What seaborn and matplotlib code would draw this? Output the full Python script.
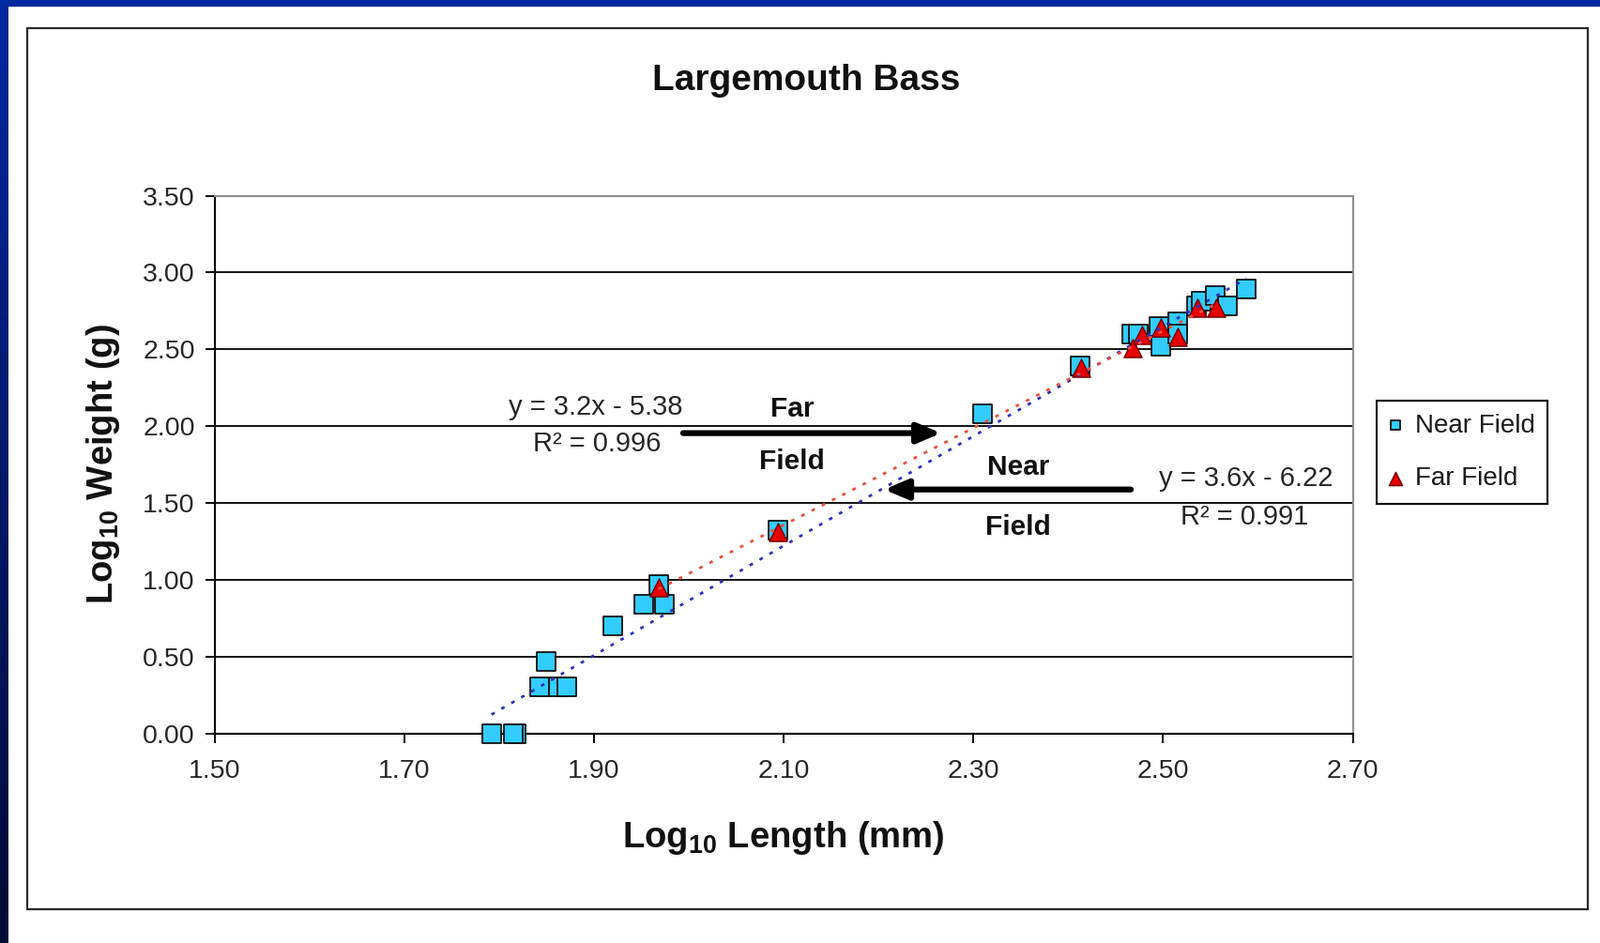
import numpy as np
import matplotlib
matplotlib.use("Agg")
import matplotlib.pyplot as plt
from matplotlib.colors import LinearSegmentedColormap
from matplotlib.patches import Rectangle
import seaborn as sns

# ── Données ───────────────────────────────────────────────────────────────────
NEAR_LOG_LENGTH = [1.792, 1.818, 1.815, 1.843, 1.863, 1.871, 1.850, 1.920, 1.953, 1.974,
                   1.968, 2.094, 2.310, 2.413, 2.467, 2.474, 2.498, 2.496, 2.515, 2.515,
                   2.535, 2.540, 2.555, 2.568, 2.588]
NEAR_LOG_WEIGHT = [0.00, 0.00, 0.00, 0.30, 0.30, 0.30, 0.47, 0.70, 0.84, 0.84,
                   0.97, 1.32, 2.08, 2.39, 2.60, 2.60, 2.52, 2.65, 2.68, 2.60,
                   2.78, 2.81, 2.85, 2.78, 2.89]

FAR_LOG_LENGTH = [1.968, 2.094, 2.414, 2.468, 2.478, 2.498, 2.515, 2.536, 2.556]
FAR_LOG_WEIGHT = [0.95, 1.31, 2.38, 2.51, 2.59, 2.64, 2.58, 2.77, 2.77]

X_TICKS = [1.50, 1.70, 1.90, 2.10, 2.30, 2.50, 2.70]
Y_TICKS = [0.00, 0.50, 1.00, 1.50, 2.00, 2.50, 3.00, 3.50]

FAR_EQUATION = ["y = 3.2x - 5.38", "R² = 0.996"]
NEAR_EQUATION = ["y = 3.6x - 6.22", "R² = 0.991"]

# ── Style ─────────────────────────────────────────────────────────────────────
_W, _H = 1706, 1005
_NEAR_FILL = "#33CCFF"
_FAR_FILL = "#E60000"
_TEXT = "#262626"
_DARK = "#111111"
_NAVY_TOP = "#0028A0"
_NAVY_BOTTOM = "#000A35"

sns.set_theme(style="white")
plt.rcParams["font.family"] = ["Liberation Sans", "DejaVu Sans"]
plt.rcParams["mathtext.fontset"] = "custom"
plt.rcParams["mathtext.rm"] = "Liberation Sans"
plt.rcParams["mathtext.bf"] = "Liberation Sans:bold"

fig = plt.figure(figsize=(_W / 100, _H / 100), dpi=100)
fig.patch.set_facecolor("white")

# cadre bleu marine (diapositive)
fig.add_artist(Rectangle((0, 1 - 6 / _H), 1, 6 / _H, transform=fig.transFigure,
                         color=_NAVY_TOP, zorder=10))
ax_band = fig.add_axes([0, 0, 9 / _W, 1])
ax_band.imshow(np.linspace(0, 1, 256).reshape(-1, 1), aspect="auto",
               cmap=LinearSegmentedColormap.from_list("navy", [_NAVY_TOP, _NAVY_BOTTOM]))
ax_band.axis("off")

# bordure de la zone graphique
fig.add_artist(Rectangle((29 / _W, 1 - 969 / _H), (1692 - 29) / _W, (969 - 30) / _H,
                         transform=fig.transFigure, fill=False, ec="#2a2a2a", lw=1.6))

ax = fig.add_axes([228.5 / _W, 1 - 781.5 / _H, (1441.6 - 228.5) / _W, (781.5 - 208.5) / _H])

sns.scatterplot(x=NEAR_LOG_LENGTH, y=NEAR_LOG_WEIGHT, marker="s", s=225,
                color=_NEAR_FILL, edgecolor="#101010", linewidth=1.3,
                label="Near Field", ax=ax, zorder=3, clip_on=False)
sns.scatterplot(x=FAR_LOG_LENGTH, y=FAR_LOG_WEIGHT, marker="^", s=190,
                color=_FAR_FILL, edgecolor="#700000", linewidth=1.0,
                label="Far Field", ax=ax, zorder=4, clip_on=False)

# droites de tendance (pointillés)
sns.regplot(x=np.array(NEAR_LOG_LENGTH), y=np.array(NEAR_LOG_WEIGHT), scatter=False,
            ci=None, ax=ax,
            line_kws=dict(color="#3030B8", lw=2.0, ls=(0, (1.4, 3.0)), zorder=5))
sns.regplot(x=np.array(FAR_LOG_LENGTH), y=np.array(FAR_LOG_WEIGHT), scatter=False,
            ci=None, ax=ax,
            line_kws=dict(color="#E85040", lw=2.0, ls=(0, (1.4, 3.0)), zorder=5))

ax.set_xlim(X_TICKS[0], X_TICKS[-1])
ax.set_ylim(Y_TICKS[0], Y_TICKS[-1])
ax.set_xticks(X_TICKS)
ax.set_xticklabels([f"{t:.2f}" for t in X_TICKS])
ax.set_yticks(Y_TICKS)
ax.set_yticklabels([f"{t:.2f}" for t in Y_TICKS])
ax.tick_params(axis="both", direction="out", length=7, width=1.4, color="black",
               labelsize=20.5, labelcolor=_TEXT)
ax.tick_params(axis="y", left=True, pad=8)
ax.tick_params(axis="x", bottom=True, pad=13)

ax.set_axisbelow(True)
ax.yaxis.grid(True, color=_DARK, linewidth=1.4)
ax.xaxis.grid(False)
for tick in ax.yaxis.get_major_ticks()[-1:]:
    tick.gridline.set_visible(False)

for side in ("left", "bottom"):
    ax.spines[side].set_color("black")
    ax.spines[side].set_linewidth(1.5)
for side in ("top", "right"):
    ax.spines[side].set_color("#8f8f8f")
    ax.spines[side].set_linewidth(1.5)

ax.set_xlabel(r"Log$_{\mathbf{10}}$ Length (mm)", fontsize=27.5, fontweight="bold", color=_DARK)
ax.xaxis.set_label_coords(0.5, -0.16)
ax.set_ylabel(r"Log$_{\mathbf{10}}$ Weight (g)", fontsize=27.5, fontweight="bold", color=_DARK)
ax.yaxis.set_label_coords(-0.081, 0.5)

fig.text(859.5 / _W, 1 - 95.7 / _H, "Largemouth Bass", ha="center", va="baseline",
         fontsize=28, fontweight="bold", color=_DARK)

# annotations
ax.text(1.902, 2.123, FAR_EQUATION[0], ha="center", va="center", fontsize=21, color=_TEXT)
ax.text(1.903, 1.885, FAR_EQUATION[1], ha="center", va="center", fontsize=21, color=_TEXT)
ax.text(2.587, 1.660, NEAR_EQUATION[0], ha="center", va="center", fontsize=21, color=_TEXT)
ax.text(2.586, 1.408, NEAR_EQUATION[1], ha="center", va="center", fontsize=21, color=_TEXT)

ax.text(2.109, 2.112, "Far", ha="center", va="center", fontsize=21.5, fontweight="bold", color=_DARK)
ax.text(2.109, 1.770, "Field", ha="center", va="center", fontsize=21.5, fontweight="bold", color=_DARK)
ax.text(2.347, 1.734, "Near", ha="center", va="center", fontsize=21.5, fontweight="bold", color=_DARK)
ax.text(2.347, 1.343, "Field", ha="center", va="center", fontsize=21.5, fontweight="bold", color=_DARK)

_arrow = dict(arrowstyle="-|>,head_length=0.75,head_width=0.32", color="black", lw=4.5,
              shrinkA=0, shrinkB=0, mutation_scale=20)
ax.annotate("", xy=(2.266, 1.954), xytext=(1.994, 1.954), arrowprops=_arrow, zorder=6)
ax.annotate("", xy=(2.206, 1.587), xytext=(2.466, 1.587), arrowprops=_arrow, zorder=6)

legend = ax.legend(loc="upper left", bbox_to_anchor=(1467.3 / _W, 1 - 426.7 / _H),
                   bbox_transform=fig.transFigure, borderaxespad=0, frameon=True,
                   fancybox=False, edgecolor="black", framealpha=1, fontsize=20,
                   borderpad=0.5, handlelength=0.4,
                   handletextpad=0.55, labelspacing=1.1)
legend.get_frame().set_linewidth(1.5)
legend.legend_handles[0].set_sizes([62])
legend.legend_handles[1].set_sizes([105])
for txt in legend.get_texts():
    txt.set_color("#1a1a1a")

fig.savefig("out.png", dpi=100)
plt.close(fig)
